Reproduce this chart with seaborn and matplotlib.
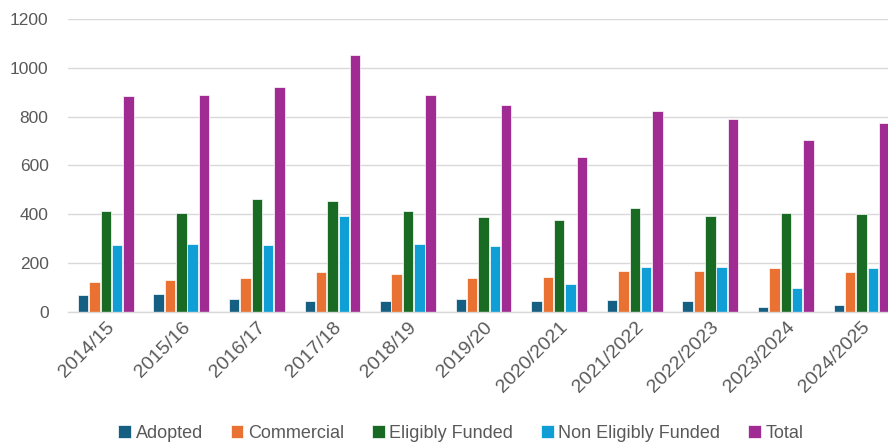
import pandas as pd
import matplotlib
matplotlib.use("Agg")
import matplotlib.pyplot as plt
import seaborn as sns

years = ["2014/15", "2015/16", "2016/17", "2017/18", "2018/19", "2019/20",
         "2020/2021", "2021/2022", "2022/2023", "2023/2024", "2024/2025"]
adopted = [68, 72, 51, 44, 44, 52, 44, 48, 46, 19, 27]
commercial = [124, 131, 138, 163, 154, 137, 142, 169, 167, 179, 163]
eligibly_funded = [414, 405, 461, 454, 414, 387, 376, 425, 391, 405, 399]
non_eligibly_funded = [273, 277, 272, 391, 276, 269, 115, 182, 182, 98, 180]
total = [886, 890, 922, 1052, 890, 847, 634, 825, 790, 704, 776]

series = ["Adopted", "Commercial", "Eligibly Funded", "Non Eligibly Funded", "Total"]
colors = ["#156082", "#E97132", "#196B24", "#0F9ED5", "#A02B93"]

# long format for seaborn
rows = []
for name, vals in zip(series, [adopted, commercial, eligibly_funded,
                               non_eligibly_funded, total]):
    for yr, v in zip(years, vals):
        rows.append({"Year": yr, "Type": name, "Count": v})
df = pd.DataFrame(rows)

sns.set_style("white")
plt.rcParams["font.family"] = ["Liberation Sans", "DejaVu Sans"]

fig = plt.figure(figsize=(8.88, 4.46), dpi=100)
ax = fig.add_axes([0.0766, 0.301, 0.936, 0.656])

sns.barplot(data=df, x="Year", y="Count", hue="Type", hue_order=series,
            order=years, palette=colors, saturation=1, width=0.75, gap=0.08,
            edgecolor="white", linewidth=0.5, ax=ax)

ax.set_ylim(0, 1200)
ax.set_xlim(-0.5, len(years) - 0.5)
ax.set_yticks(range(0, 1201, 200))
ax.yaxis.grid(True, color="#d9d9d9", linewidth=1)
ax.set_axisbelow(True)
for s in ["top", "right", "left"]:
    ax.spines[s].set_visible(False)
ax.spines["bottom"].set_color("#d9d9d9")
ax.spines["bottom"].set_linewidth(1)
ax.set_xlabel("")
ax.set_ylabel("")
ax.tick_params(axis="both", length=0, colors="#595959")
ax.tick_params(axis="y", pad=14, labelsize=12.5)
ax.tick_params(axis="x", pad=5, labelsize=14)
plt.setp(ax.get_xticklabels(), rotation=45, ha="right", rotation_mode="anchor")

handles, labels = ax.get_legend_handles_labels()
ax.legend_.remove()
fig.legend(handles, labels, loc="center", bbox_to_anchor=(0.519, 0.028), ncol=5,
           frameon=False, fontsize=13, handlelength=0.7, handleheight=0.7,
           handletextpad=0.25, columnspacing=1.55, labelcolor="#595959")

fig.savefig("out.png", dpi=100)
